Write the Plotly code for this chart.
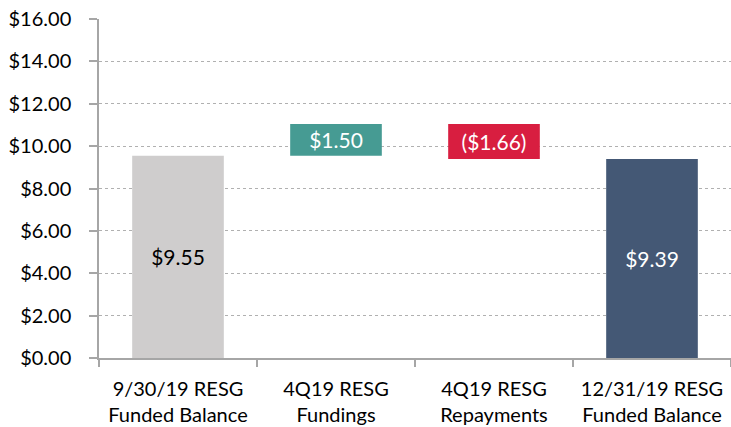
import plotly.graph_objects as go

categories = ["9/30/19 RESG<br>Funded Balance", "4Q19 RESG<br>Fundings",
              "4Q19 RESG<br>Repayments", "12/31/19 RESG<br>Funded Balance"]
changes = [9.55, 1.50, -1.66, 9.39]
kinds = ["absolute", "relative", "relative", "total"]
labels = ["$9.55", "$1.50", "($1.66)", "$9.39"]
colors = ["#cfcdcd", "#469b93", "#d81e40", "#445875"]
label_colors = ["#000000", "#ffffff", "#ffffff", "#ffffff"]
y_ticks = [0, 2, 4, 6, 8, 10, 12, 14, 16]
y_ticktext = ["$%.2f" % v for v in y_ticks]

# waterfall bases / heights
bases, heights = [], []
running = 0.0
for c, k in zip(changes, kinds):
    if k == "absolute" or k == "total":
        bases.append(0)
        heights.append(c)
        running = c
    else:
        if c >= 0:
            bases.append(running)
            heights.append(c)
        else:
            bases.append(running + c)
            heights.append(-c)
        running += c

fig = go.Figure(go.Bar(
    x=categories, y=heights, base=bases,
    marker=dict(color=colors, line=dict(width=0)),
    width=0.58,
    text=labels, textposition="inside", insidetextanchor="middle",
    textfont=dict(family="Lato", size=21, color=label_colors),
    textangle=0, cliponaxis=False,
))

fig.update_layout(
    width=731, height=427,
    margin=dict(l=99, r=0, t=19, b=69, autoexpand=False),
    paper_bgcolor="white", plot_bgcolor="white",
    showlegend=False,
    font=dict(family="Lato", size=20, color="#000000"),
    uniformtext=dict(mode=False),
)
fig.update_xaxes(
    automargin=False, tickangle=0, ticklabeloverflow="allow",
    showline=True, linecolor="#a6a6a6", linewidth=1.5,
    ticks="outside", tickson="boundaries", ticklen=7, tickcolor="#a6a6a6", tickwidth=1.5,
    ticklabelstandoff=12,
    showgrid=False, tickfont=dict(family="Lato", size=20, color="#000"),
)
fig.update_yaxes(
    automargin=False, ticklabeloverflow="allow",
    range=[0, 16], tickvals=y_ticks, ticktext=y_ticktext,
    showline=True, linecolor="#a6a6a6", linewidth=1.5,
    ticks="outside", ticklen=8, tickcolor="#a6a6a6", tickwidth=1.5,
    ticklabelstandoff=14,
    showgrid=True, gridcolor="#b0b0b0", griddash="dot", gridwidth=1.2,
    zeroline=False, tickfont=dict(family="Lato", size=20, color="#000"),
)

fig.write_html("out.html", config={"displayModeBar": False},
               post_script="document.body.style.margin='0';")
